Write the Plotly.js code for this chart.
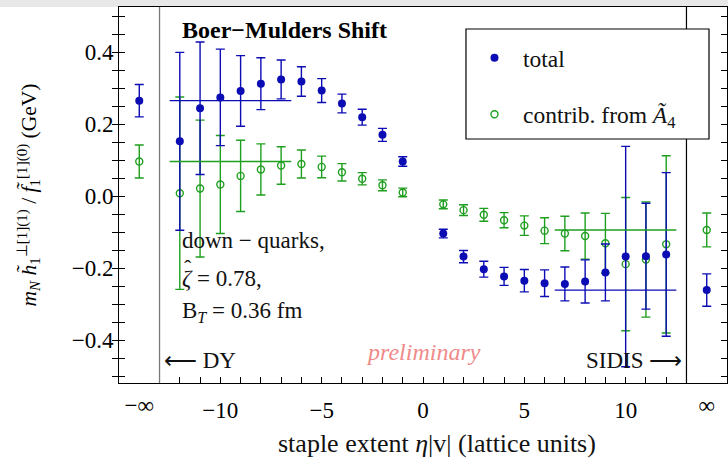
<!DOCTYPE html>
<html>
<head>
<meta charset="utf-8">
<script src="https://cdn.plot.ly/plotly-3.0.1.min.js"></script>
<style>html,body{margin:0;padding:0;background:#fff}#chart{width:728px;height:462px}</style>
</head>
<body>
<div id="chart"></div>
<script>
// staple extent eta|v| ; -14 and 14 stand for -infinity and +infinity
const eta = [-14,-12,-11,-10,-9,-8,-7,-6,-5,-4,-3,-2,-1,1,2,3,4,5,6,7,8,9,10,11,12,14];
const totalVal = [0.265,0.152,0.244,0.274,0.292,0.312,0.324,0.318,0.293,0.257,0.219,0.170,0.096,
                  -0.104,-0.168,-0.203,-0.223,-0.235,-0.242,-0.244,-0.237,-0.212,-0.168,-0.167,-0.162,-0.261];
const totalErr = [0.045,0.247,0.184,0.134,0.098,0.072,0.054,0.041,0.033,0.026,0.022,0.018,0.013,
                  0.012,0.017,0.022,0.025,0.031,0.037,0.047,0.060,0.079,0.306,0.147,0.227,0.045];
const a4Val = [0.096,0.008,0.021,0.032,0.056,0.074,0.085,0.089,0.081,0.066,0.048,0.030,0.010,
               -0.023,-0.039,-0.052,-0.067,-0.082,-0.096,-0.104,-0.111,-0.131,-0.189,-0.176,-0.134,-0.094];
const a4Err = [0.046,0.267,0.190,0.136,0.099,0.071,0.052,0.039,0.030,0.024,0.017,0.015,0.012,
               0.012,0.015,0.018,0.021,0.027,0.036,0.048,0.064,0.083,0.185,0.160,0.246,0.047];
// plateau bands showing the infinite-staple values
const plateauLeftEta = [-12.5, -6.5];
const plateauRightEta = [6.5, 12.5];
const dividerEta = [-13, 13];
// tick labels
const xTickVals = [-12,-11,-10,-9,-8,-7,-6,-5,-4,-3,-2,-1,0,1,2,3,4,5,6,7,8,9,10,11,12];
const xTickText = ['','','−10','','','','','−5','','','','','0','','','','','5','','','','','10','',''];
const xInfVals = [-14, 14];
const xInfText = ['−∞', '∞'];
const yTickVals = [-0.5,-0.45,-0.4,-0.35,-0.3,-0.25,-0.2,-0.15,-0.1,-0.05,0,0.05,0.1,0.15,0.2,0.25,0.3,0.35,0.4,0.45,0.5];
const yTickText = ['','','−0.4','','','','−0.2','','','','0.0','','','','0.2','','','','0.4','',''];

const BLUE = '#0c0cb4';
const GREEN = '#1f9f1f';
const FONT = '"Liberation Serif","Times New Roman",serif';

const n = eta.length;
const infL = 0, infR = n - 1;

const traces = [
  {
    x: eta, y: a4Val, type: 'scatter', mode: 'markers', name: 'contrib. from <i>Ã</i><sub>4</sub>',
    legendgroup: 'b', legendrank: 2,
    marker: {symbol: 'circle-open', size: 7, color: GREEN, line: {width: 1.4, color: GREEN}},
    error_y: {type: 'data', array: a4Err, visible: true, color: GREEN, thickness: 1.4, width: 4.5}
  },
  {
    x: eta, y: totalVal, type: 'scatter', mode: 'markers', name: 'total',
    legendgroup: 'a', legendrank: 1,
    marker: {symbol: 'circle', size: 8, color: BLUE},
    error_y: {type: 'data', array: totalErr, visible: true, color: BLUE, thickness: 1.4, width: 4.5}
  },
  {x: plateauLeftEta, y: [totalVal[infL], totalVal[infL]], xaxis: 'x2', mode: 'lines', showlegend: false,
   line: {color: BLUE, width: 1.4}, hoverinfo: 'skip'},
  {x: plateauLeftEta, y: [a4Val[infL], a4Val[infL]], xaxis: 'x2', mode: 'lines', showlegend: false,
   line: {color: GREEN, width: 1.4}, hoverinfo: 'skip'},
  {x: plateauRightEta, y: [totalVal[infR], totalVal[infR]], xaxis: 'x2', mode: 'lines', showlegend: false,
   line: {color: BLUE, width: 1.4}, hoverinfo: 'skip'},
  {x: plateauRightEta, y: [a4Val[infR], a4Val[infR]], xaxis: 'x2', mode: 'lines', showlegend: false,
   line: {color: GREEN, width: 1.4}, hoverinfo: 'skip'}
];

const xRange = [-15, 15];
const layout = {
  width: 728, height: 462,
  margin: {l: 119, r: 1, t: 7, b: 79},
  paper_bgcolor: '#fff', plot_bgcolor: '#fff',
  font: {family: FONT, size: 22, color: '#000'},
  showlegend: true,
  legend: {
    x: 0.5707, y: 0.923, xanchor: 'left', yanchor: 'top',
    borderwidth: 0, bgcolor: 'rgba(0,0,0,0)',
    font: {family: FONT, size: 23.5, color: '#111'},
    traceorder: 'grouped', tracegroupgap: 23, itemwidth: 47
  },
  xaxis: {
    range: xRange, tickmode: 'array', tickvals: xTickVals, ticktext: xTickText,
    ticks: 'inside', ticklen: 6, tickwidth: 1, tickcolor: '#000',
    showline: true, linecolor: '#000', linewidth: 1, mirror: true,
    showgrid: false, zeroline: false, ticklabelstandoff: 6,
    tickfont: {family: FONT, size: 23}
  },
  xaxis2: {
    range: xRange, overlaying: 'x', anchor: 'y', side: 'bottom',
    tickmode: 'array', tickvals: xInfVals, ticktext: xInfText,
    ticks: '', showline: false, showgrid: false, zeroline: false, ticklabelstandoff: 6,
    tickfont: {family: FONT, size: 23}
  },
  yaxis: {
    range: [-0.519, 0.525], tickmode: 'array', tickvals: yTickVals, ticktext: yTickText,
    ticks: 'inside', ticklen: 6, tickwidth: 1, tickcolor: '#000',
    showline: true, linecolor: '#000', linewidth: 1, mirror: 'allticks',
    showgrid: false, zeroline: false,
    tickfont: {family: FONT, size: 23},
    title: {text: '<i>m</i><sub><i>N</i></sub> <i>h̃</i><sub>1</sub><sup>⊥[1](1)</sup> / <i>f̃</i><sub>1</sub><sup>[1](0)</sup> (GeV)',
            font: {family: FONT, size: 21.5}, standoff: 29}
  },
  shapes: [
    {type: 'rect', xref: 'paper', yref: 'paper', x0: -0.2, x1: 1.01, y0: 1.0, y1: 1.03,
     fillcolor: '#e8e8e8', line: {width: 0}, layer: 'below'},
    {type: 'line', xref: 'x', yref: 'paper', x0: dividerEta[0], x1: dividerEta[0], y0: 0, y1: 1,
     line: {color: '#7a7a7a', width: 1.3}},
    {type: 'line', xref: 'x', yref: 'paper', x0: dividerEta[1], x1: dividerEta[1], y0: 0, y1: 1,
     line: {color: '#000', width: 1.2}},
    {type: 'rect', xref: 'paper', yref: 'paper', x0: 0.5707, x1: 0.9704, y0: 0.649, y1: 0.9415,
     fillcolor: '#fff', line: {color: '#000', width: 1.2}, layer: 'above'}
  ],
  annotations: [
    {text: 'staple extent <i>η</i>|v| (lattice units)', xref: 'paper', yref: 'paper', x: 0.523, y: -0.162,
     xanchor: 'center', yanchor: 'middle', showarrow: false, font: {family: FONT, size: 26, color: '#111'}},
    {text: '<b>Boer−Mulders Shift</b>', xref: 'paper', yref: 'paper', x: 0.1003, y: 0.939,
     xanchor: 'left', yanchor: 'middle', showarrow: false, font: {family: FONT, size: 24, color: '#000'}},
    {text: 'down − quarks,', xref: 'paper', yref: 'paper', x: 0.1003, y: 0.378,
     xanchor: 'left', yanchor: 'middle', showarrow: false, font: {family: FONT, size: 23, color: '#111'}},
    {text: '<i>ζ</i> = 0.78,', xref: 'paper', yref: 'paper', x: 0.1003, y: 0.277,
     xanchor: 'left', yanchor: 'middle', showarrow: false, font: {family: FONT, size: 23, color: '#111'}},
    {text: 'ˆ', xref: 'paper', yref: 'paper', x: 0.113, y: 0.308,
     xanchor: 'center', yanchor: 'middle', showarrow: false, font: {family: FONT, size: 22, color: '#111'}},
    {text: 'B<sub><i>T</i></sub> = 0.36 fm', xref: 'paper', yref: 'paper', x: 0.1003, y: 0.189,
     xanchor: 'left', yanchor: 'middle', showarrow: false, font: {family: FONT, size: 23, color: '#111'}},
    {text: '⟵ DY', xref: 'paper', yref: 'paper', x: 0.0707, y: 0.061,
     xanchor: 'left', yanchor: 'middle', showarrow: false, font: {family: FONT, size: 23, color: '#111'}},
    {text: 'SIDIS ⟶', xref: 'paper', yref: 'paper', x: 0.929, y: 0.061,
     xanchor: 'right', yanchor: 'middle', showarrow: false, font: {family: FONT, size: 23, color: '#111'}},
    {text: '<i>preliminary</i>', xref: 'paper', yref: 'paper', x: 0.5, y: 0.082,
     xanchor: 'center', yanchor: 'middle', showarrow: false, font: {family: FONT, size: 24, color: '#f08a8a'}}
  ]
};

Plotly.newPlot('chart', traces, layout, {displayModeBar: false, staticPlot: true});
</script>
</body>
</html>
